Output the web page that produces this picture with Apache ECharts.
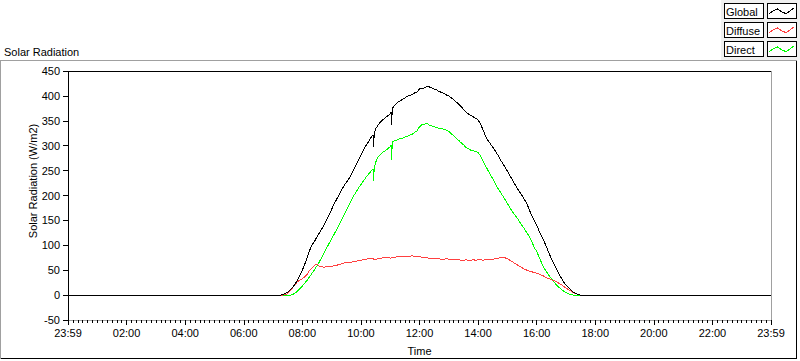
<!DOCTYPE html>
<html><head><meta charset="utf-8">
<script src="https://cdn.jsdelivr.net/npm/echarts@6/dist/echarts.min.js"></script>
<style>html,body{margin:0;padding:0;background:#fff}#c{width:800px;height:361px}
#c svg path{shape-rendering:crispEdges}</style>
</head><body><div id="c"></div>
<script>
// time of each sample, minutes from the start of the axis (23:59 -> 23:59)
const timeMinutes = [
  0,
  420,425,430,435,440,445,450,455,460,465,470,475,
  480,485,490,495,500,505,510,515,520,525,530,535,
  540,545,550,555,560,565,570,575,580,585,590,595,
  600,605,610,615,620,625,626,627,630,635,640,645,650,655,
  660,662,663,664,665,670,675,680,685,690,695,700,705,710,715,
  720,725,730,735,740,745,750,755,760,765,770,775,
  780,785,790,795,800,805,810,815,820,825,830,835,
  840,845,850,855,860,865,870,875,880,885,890,895,
  900,905,910,915,920,925,930,935,940,945,950,955,
  960,965,970,975,980,985,990,995,1000,1005,1010,1015,
  1020,1025,1030,1035,1040,1045,1050,1055,1060,
  1440
];
const globalVals = [
  0,
  0,0,0,0,1,3,6,10,15,22,30,39,
  50,62,76,90,101,108,117,125,133,142,152,162,
  172,183,192,201,210,219,226,233,242,252,262,271,
  281,291,300,307,316,322,298,320,334,341,348,352,356,360,
  364,368,341,370,376,382,387,390,393,396,399,401,403,406,408,
  414,415,416,419,418,416,414,412,409,407,405,402,
  400,396,393,388,384,379,373,368,364,361,358,355,
  352,343,332,320,311,304,297,290,282,273,265,257,
  249,240,232,223,215,207,200,192,184,171,160,150,
  140,129,119,108,97,85,73,63,53,44,35,27,
  20,15,10,6,3,1,0,0,0,
  0
];
const diffuseVals = [
  0,
  0,0,0,0,0,1,3,8,15,21,27,30,
  33,37,42,50,55,60,62,58,57,56,57,58,
  58,59,60,61,63,64,66,65,66,67,68,69,
  70,71,72,73,74,73,73,72,72,73,74,75,75,76,
  74,75,75,75,75,76,77,77,78,77,78,78,79,78,78,
  77,76,75,75,74,74,73,74,73,72,72,73,
  72,71,71,72,71,70,70,71,70,70,71,70,
  71,71,70,71,71,72,72,73,74,75,76,75,
  73,70,67,64,61,58,55,52,50,48,47,45,
  44,42,40,38,35,33,31,29,27,24,21,18,
  14,11,8,5,3,1,0,0,0,
  0
];
const directVals = [
  0,
  0,0,0,0,0,0,0,0,1,4,8,13,
  18,24,30,37,44,51,59,67,76,85,95,104,
  113,122,131,140,150,160,170,180,190,199,207,215,
  222,229,236,242,248,254,229,252,266,278,282,287,290,294,
  298,302,272,304,308,310,312,314,315,317,319,321,323,327,330,
  338,342,343,345,341,340,338,336,335,334,333,331,
  329,324,320,315,311,306,302,297,294,291,290,288,
  287,279,270,260,251,242,234,224,215,208,200,192,
  184,176,168,161,155,147,140,133,125,117,108,95,
  88,76,65,55,47,40,33,27,21,16,12,8,
  5,3,1,0,0,0,0,0,0,
  0
];
const xTickLabels = ['23:59','02:00','04:00','06:00','08:00','10:00','12:00','14:00','16:00','18:00','20:00','22:00','23:59'];
const legendNames = ['Global','Diffuse','Direct'];
const legendColors = ['#000000','#ff4040','#00ff00'];

const FONT = '"Liberation Sans", Arial, sans-serif';
const chart = echarts.init(document.getElementById('c'), null, {renderer:'svg'});

function pairs(vals){ return timeMinutes.map((t,i)=>[t, vals[i]]); }

// legend decoration
const legendGraphics = [{type:'rect', shape:{x:721,y:0,width:79,height:60}, style:{fill:'#f0f0f0'}, silent:true}];
const rowTops = [3.5, 22.5, 41.5];
legendNames.forEach((n,i)=>{
  const y = rowTops[i];
  legendGraphics.push({type:'rect', shape:{x:724.5,y:y,width:39,height:15}, style:{fill:'#fff',stroke:'#000',lineWidth:1}});
  legendGraphics.push({type:'text', x:726, y:y+8, style:{text:n, font:'11px '+FONT, fill:'#000', textVerticalAlign:'middle'}});
  legendGraphics.push({type:'rect', shape:{x:767.5,y:y,width:29,height:15}, style:{fill:'#fff',stroke:'#000',lineWidth:1}});
  const xs=[2,6,10,15,19,23,27], ys=[10,7,5.5,9,10,7,4];
  legendGraphics.push({type:'polyline', shape:{points:xs.map((dx,k)=>[767.5+dx, y+ys[k]])}, style:{stroke:legendColors[i],fill:null,lineWidth:1}});
});

const option = {
  animation:false,
  backgroundColor:'#fff',
  grid:{left:68, right:29, top:71, bottom:39, show:false},
  xAxis:[{
    type:'value', min:0, max:1440, interval:120,
    name:'Time', nameLocation:'middle', nameGap:25,
    nameTextStyle:{fontFamily:FONT, fontSize:11, color:'#000'},
    axisLine:{show:true, onZero:false, lineStyle:{color:'#a0a0a0', width:1}},
    axisTick:{show:true, length:5, lineStyle:{color:'#000'}},
    minorTick:{show:true, splitNumber:12, length:3, lineStyle:{color:'#000'}},
    axisLabel:{fontFamily:FONT, fontSize:11, color:'#000', margin:7, showMinLabel:true, showMaxLabel:true,
      formatter:(v)=>xTickLabels[Math.round(v/120)]},
    splitLine:{show:false}
  },{
    type:'value', min:0, max:1440, position:'top',
    axisLine:{show:true, onZero:false, lineStyle:{color:'#000', width:1}},
    axisTick:{show:false}, axisLabel:{show:false}, splitLine:{show:false}
  }],
  yAxis:[{
    type:'value', min:-50, max:450, interval:50,
    axisLine:{show:true, onZero:false, lineStyle:{color:'#000', width:1}},
    axisTick:{show:true, length:5, lineStyle:{color:'#000'}},
    axisLabel:{fontFamily:FONT, fontSize:11, color:'#000', margin:8},
    splitLine:{show:false}
  },{
    type:'value', min:-50, max:450, position:'right',
    axisLine:{show:true, onZero:false, lineStyle:{color:'#a0a0a0', width:1}},
    axisTick:{show:false}, axisLabel:{show:false}, splitLine:{show:false}
  }],
  series:[
    {name:'Direct', type:'line', data:pairs(directVals), showSymbol:false, lineStyle:{color:legendColors[2], width:1}, z:2},
    {name:'Diffuse', type:'line', data:pairs(diffuseVals), showSymbol:false, lineStyle:{color:legendColors[1], width:1}, z:3},
    {name:'Global', type:'line', data:pairs(globalVals), showSymbol:false, lineStyle:{color:legendColors[0], width:1}, z:4}
  ],
  graphic:[
    {type:'polyline', shape:{points:[[0.5,358.5],[0.5,60.5],[796.5,60.5]]}, style:{stroke:'#a0a0a0',fill:null,lineWidth:1}, z:-1},
    {type:'polyline', shape:{points:[[796.5,60.5],[796.5,358.5],[0.5,358.5]]}, style:{stroke:'#000',fill:null,lineWidth:1}, z:-1},
    {type:'text', x:4, y:52, style:{text:'Solar Radiation', font:'11px '+FONT, fill:'#000', textVerticalAlign:'middle'}},
    {type:'text', x:33, y:181, rotation:Math.PI/2, style:{text:'Solar Radiation (W/m2)', font:'11px '+FONT, fill:'#000', textAlign:'center', textVerticalAlign:'middle'}}
  ].concat(legendGraphics)
};
chart.setOption(option);
</script>
</body></html>
